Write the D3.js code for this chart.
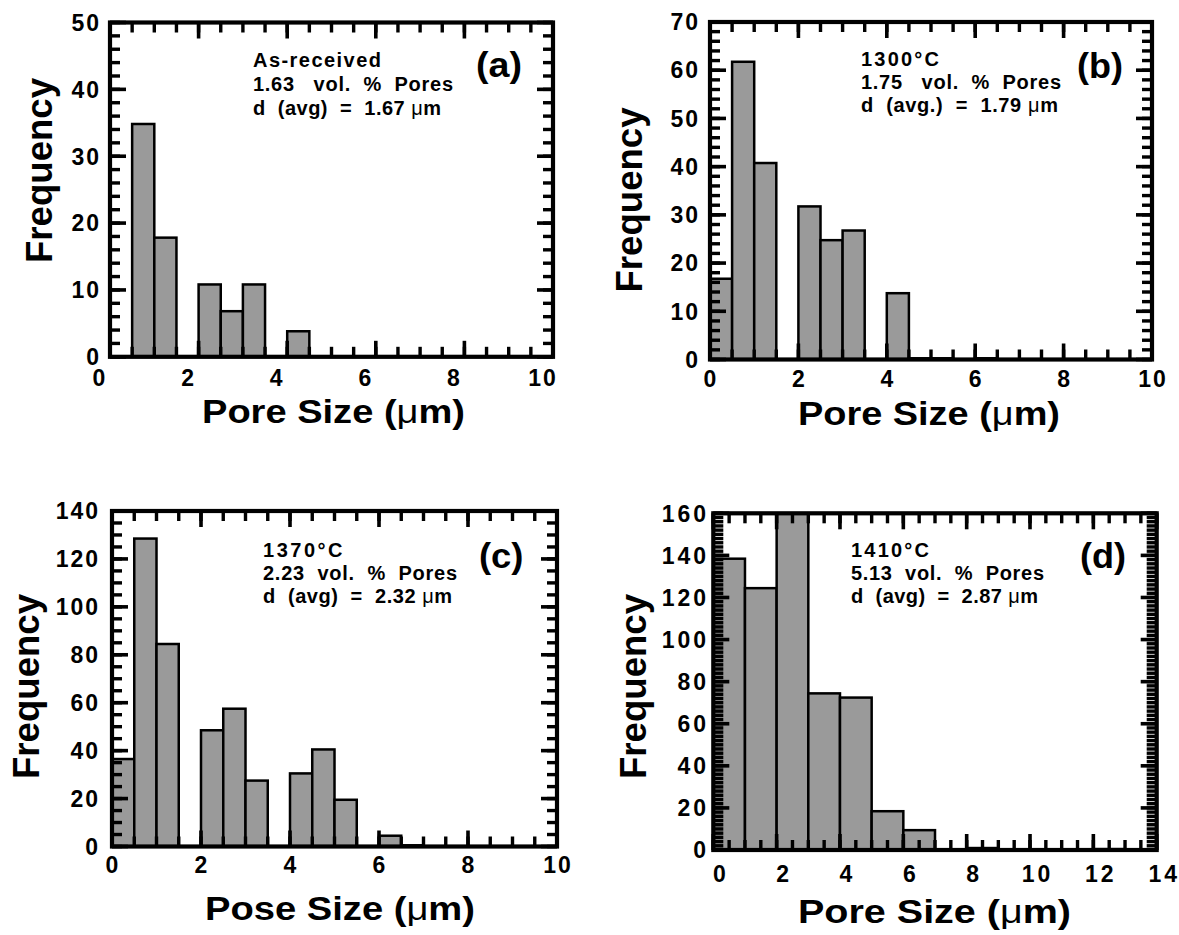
<!DOCTYPE html>
<html><head><meta charset="utf-8">
<script src="https://cdn.jsdelivr.net/npm/d3@7/dist/d3.min.js"></script>
<style>
body{margin:0;background:#fff}
svg text{font-family:"Liberation Sans",Arial,Helvetica,sans-serif;font-weight:bold;fill:#000;white-space:pre}
</style>
</head><body>
<svg id="chart" width="1179" height="935"></svg>
<script>
// ---------------- data ----------------
// bin starts (µm) and frequencies for each panel
const binStartsA = [0.5, 1.0, 2.0, 2.5, 3.0, 4.0];
const freqA      = [35, 18, 11, 7, 11, 4];
const binStartsB = [0, 0.5, 1.0, 2.0, 2.5, 3.0, 4.0, 4.5, 5.0, 6.0];
const freqB      = [17, 62, 41, 32, 25, 27, 14, 0.5, 0.5, 0.5];
const binStartsC = [0, 0.5, 1.0, 2.0, 2.5, 3.0, 4.0, 4.5, 5.0, 6.0, 6.5];
const freqC      = [37, 129, 85, 49, 58, 28, 31, 41, 20, 5, 1];
const binStartsD = [0, 1, 2, 3, 4, 5, 6, 8, 12];
const freqD      = [139, 125, 165, 75, 73, 19, 10, 1.5, 1];

const xTickLabelsA = [0, 2, 4, 6, 8, 10];
const yTickLabelsA = [0, 10, 20, 30, 40, 50];
const xTickLabelsB = [0, 2, 4, 6, 8, 10];
const yTickLabelsB = [0, 10, 20, 30, 40, 50, 60, 70];
const xTickLabelsC = [0, 2, 4, 6, 8, 10];
const yTickLabelsC = [0, 20, 40, 60, 80, 100, 120, 140];
const xTickLabelsD = [0, 2, 4, 6, 8, 10, 12, 14];
const yTickLabelsD = [0, 20, 40, 60, 80, 100, 120, 140, 160];

const notesA = ["As-received", "1.63   vol.  %  Pores", "d  (avg)  =  1.67 μm"];
const notesB = ["1300°C", "1.75   vol.  %  Pores", "d  (avg.)  =  1.79 μm"];
const notesC = ["1370°C", "2.23  vol.  %  Pores", "d  (avg)  =  2.32 μm"];
const notesD = ["1410°C", "5.13  vol.  %  Pores", "d  (avg)  =  2.87 μm"];

const TICK_COLOR = "#000";

// ---------------- layout ----------------
const panels = [
  {id:"a", starts:binStartsA, freq:freqA, binW:0.5, xDom:[0,10], yDom:[0,50],
   px:[110,553], py:[356.8,22.5], xMinor:0.5, yMinor:2, xt:xTickLabelsA, yt:yTickLabelsA,
   xLabelY:386, xLabelDx:-11, yLabelX:99, ls:2,
   notes:notesA, noteX:253, noteY:[67,91,115], noteLen:[128,200,188],
   tag:"(a)", tagX:476, tagY:77, tagLen:46,
   yTitleX:52, yTitleCY:170.5, xTitle:"Pore Size (μm)", xTitleX:202, xTitleY:423, xTitleLen:263},
  {id:"b", starts:binStartsB, freq:freqB, binW:0.5, xDom:[0,10], yDom:[0,70],
   px:[710,1152], py:[359.5,22], xMinor:0.5, yMinor:2, xt:xTickLabelsB, yt:yTickLabelsB,
   xLabelY:387, xLabelDx:0, yLabelX:698, ls:2,
   notes:notesB, noteX:861, noteY:[66,89,112], noteLen:[78,200,197],
   tag:"(b)", tagX:1077, tagY:78, tagLen:46,
   yTitleX:642, yTitleCY:200, xTitle:"Pore Size (μm)", xTitleX:798, xTitleY:425, xTitleLen:262},
  {id:"c", starts:binStartsC, freq:freqC, binW:0.5, xDom:[0,10], yDom:[0,140],
   px:[112,557], py:[846.5,511], xMinor:0.5, yMinor:5, xt:xTickLabelsC, yt:yTickLabelsC,
   xLabelY:873, xLabelDx:0, yLabelX:98, ls:2,
   notes:notesC, noteX:263, noteY:[557,580,603], noteLen:[79.5,194,189],
   tag:"(c)", tagX:479, tagY:568, tagLen:44.5,
   yTitleX:39, yTitleCY:686.5, xTitle:"Pose Size (μm)", xTitleX:205, xTitleY:920, xTitleLen:270},
  {id:"d", starts:binStartsD, freq:freqD, binW:1, xDom:[0,14], yDom:[0,160],
   px:[713.3,1156.7], py:[850,513.3], xMinor:0.5, yMinor:2, xt:xTickLabelsD, yt:yTickLabelsD,
   xLabelY:882, xLabelDx:6, yLabelX:706, ls:3,
   notes:notesD, noteX:851, noteY:[557,580,603], noteLen:[78,193,187],
   tag:"(d)", tagX:1080, tagY:568, tagLen:46,
   yTitleX:646, yTitleCY:686.5, xTitle:"Pore Size (μm)", xTitleX:798, xTitleY:923, xTitleLen:273}
];

const svg = d3.select("#chart");
const defs = svg.append("defs");

function richText(sel, str){
  const parts = str.split("μ");
  parts.forEach((p,i)=>{
    if(i>0) sel.append("tspan").attr("font-weight","normal").text("μ");
    if(p) sel.append("tspan").text(p);
  });
}

panels.forEach(cfg=>{
  const x = d3.scaleLinear().domain(cfg.xDom).range(cfg.px);
  const y = d3.scaleLinear().domain(cfg.yDom).range(cfg.py);
  const g = svg.append("g");
  const x0 = cfg.px[0], x1 = cfg.px[1], yb = cfg.py[0], yt = cfg.py[1];

  defs.append("clipPath").attr("id","clip"+cfg.id).append("rect")
    .attr("x",x0).attr("y",yt).attr("width",x1-x0).attr("height",yb-yt);

  // bars
  const rows = cfg.starts.map((s,i)=>({s, v:cfg.freq[i]}));
  g.append("g").attr("clip-path",`url(#clip${cfg.id})`)
    .selectAll("rect").data(rows).join("rect")
    .attr("x",d=>x(d.s))
    .attr("width",d=>x(d.s+cfg.binW)-x(d.s))
    .attr("y",d=>y(d.v)+1.2)
    .attr("height",d=>Math.max(0,y(0)-y(d.v)-1.2))
    .attr("fill","#9a9a9a").attr("stroke","#000").attr("stroke-width",2.5);

  // tick labels
  const fmt = d3.format("d");
  g.append("g").selectAll("text").data(cfg.xt).join("text")
    .attr("x",d=>x(d)+cfg.xLabelDx+cfg.ls/2).attr("y",cfg.xLabelY)
    .attr("text-anchor","middle").attr("font-size",23)
    .style("letter-spacing",cfg.ls+"px").text(fmt);
  g.append("g").selectAll("text").data(cfg.yt).join("text")
    .attr("x",cfg.yLabelX+cfg.ls).attr("y",d=>y(d)).attr("dy","0.36em")
    .attr("text-anchor","end").attr("font-size",23)
    .style("letter-spacing",cfg.ls+"px").text(fmt);

  // frame
  g.append("rect").attr("x",x0).attr("y",yt).attr("width",x1-x0).attr("height",yb-yt)
    .attr("fill","none").attr("stroke","#000").attr("stroke-width",4.2);

  // inward ticks on all four sides
  const minorX = d3.range(cfg.xDom[0], cfg.xDom[1]+1e-9, cfg.xMinor);
  const minorY = d3.range(cfg.yDom[0], cfg.yDom[1]+1e-9, cfg.yMinor);
  const MIN = 10, MAJ = 16;
  const tg = g.append("g");
  const xTicks = (vals, len, w) => {
    tg.append("g").selectAll("rect").data(vals).join("rect")
      .attr("x",d=>x(d)-w/2).attr("y",yb-len).attr("width",w).attr("height",len).attr("fill",TICK_COLOR);
    tg.append("g").selectAll("rect").data(vals).join("rect")
      .attr("x",d=>x(d)-w/2).attr("y",yt).attr("width",w).attr("height",len).attr("fill",TICK_COLOR);
  };
  const yTicks = (vals, len, w) => {
    tg.append("g").selectAll("rect").data(vals).join("rect")
      .attr("x",x0).attr("y",d=>y(d)-w/2).attr("width",len).attr("height",w).attr("fill",TICK_COLOR);
    tg.append("g").selectAll("rect").data(vals).join("rect")
      .attr("x",x1-len).attr("y",d=>y(d)-w/2).attr("width",len).attr("height",w).attr("fill",TICK_COLOR);
  };
  xTicks(minorX, MIN, 3.4);
  yTicks(minorY, MIN, 3.4);
  xTicks(cfg.xt, MAJ, 3.6);
  yTicks(cfg.yt, MAJ, 3.6);

  // annotation
  cfg.notes.forEach((n,i)=>{
    const t = g.append("text").attr("x",cfg.noteX).attr("y",cfg.noteY[i])
      .attr("font-size",20).attr("xml:space","preserve")
      .attr("textLength",cfg.noteLen[i]).attr("lengthAdjust","spacing");
    richText(t, n);
  });
  g.append("text").attr("x",cfg.tagX).attr("y",cfg.tagY).attr("font-size",35)
    .attr("textLength",cfg.tagLen).attr("lengthAdjust","spacingAndGlyphs").text(cfg.tag);

  // axis titles
  g.append("text").attr("transform",`translate(${cfg.yTitleX},${cfg.yTitleCY}) rotate(-90)`)
    .attr("text-anchor","middle").attr("font-size",36.5)
    .attr("textLength",185).attr("lengthAdjust","spacingAndGlyphs").text("Frequency");
  const xTitleSel = g.append("text").attr("x",cfg.xTitleX).attr("y",cfg.xTitleY).attr("font-size",34)
    .attr("xml:space","preserve")
    .attr("textLength",cfg.xTitleLen).attr("lengthAdjust","spacingAndGlyphs");
  richText(xTitleSel, cfg.xTitle);
});
</script>
</body></html>
